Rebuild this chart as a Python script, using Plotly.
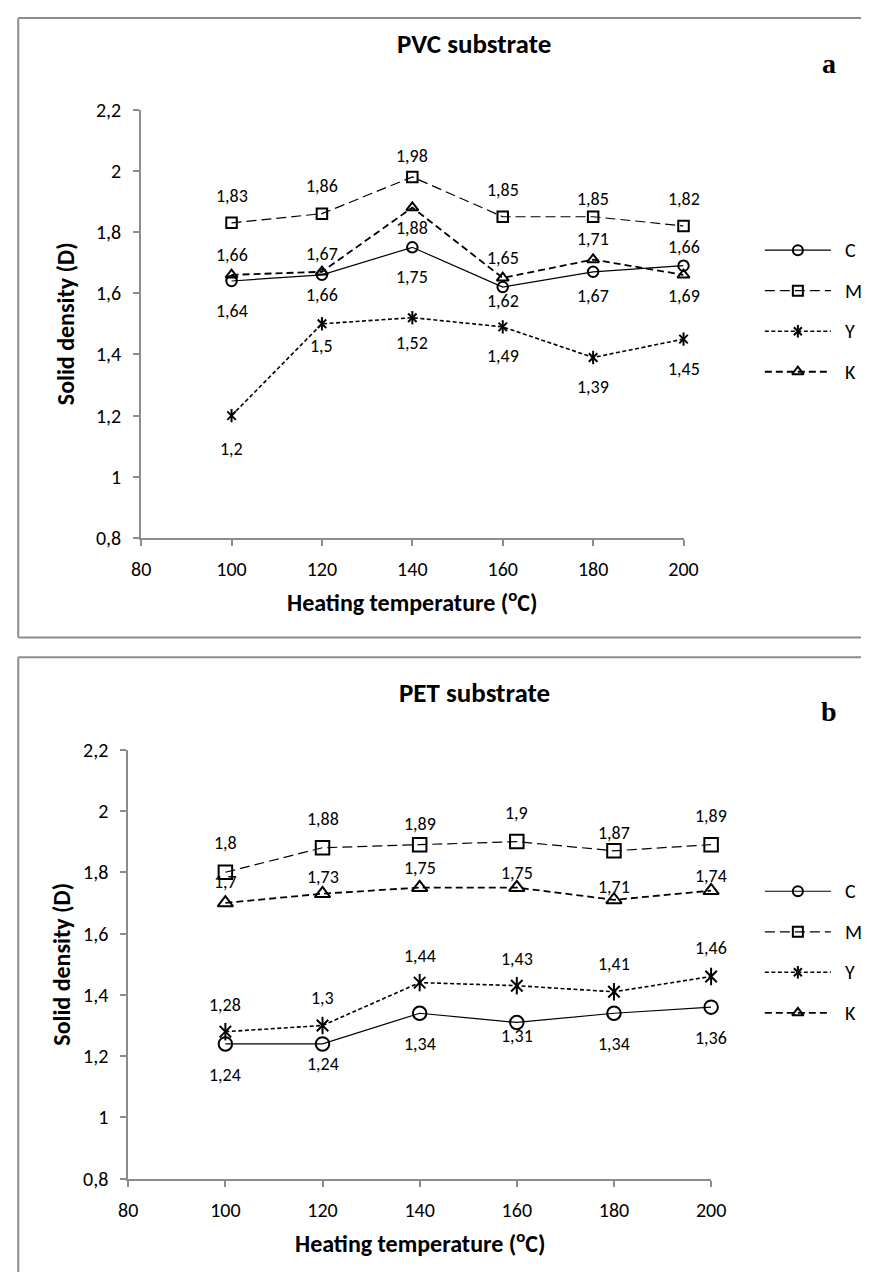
import plotly.graph_objects as go

W, H = 876, 1284

# ---------------- data ----------------
temps = [100, 120, 140, 160, 180, 200]
series = ["C", "M", "Y", "K"]

pvc_C = [1.64, 1.66, 1.75, 1.62, 1.67, 1.69]
pvc_M = [1.83, 1.86, 1.98, 1.85, 1.85, 1.82]
pvc_Y = [1.20, 1.50, 1.52, 1.49, 1.39, 1.45]
pvc_K = [1.66, 1.67, 1.88, 1.65, 1.71, 1.66]

pet_C = [1.24, 1.24, 1.34, 1.31, 1.34, 1.36]
pet_M = [1.80, 1.88, 1.89, 1.90, 1.87, 1.89]
pet_Y = [1.28, 1.30, 1.44, 1.43, 1.41, 1.46]
pet_K = [1.70, 1.73, 1.75, 1.75, 1.71, 1.74]

x_ticks = [80, 100, 120, 140, 160, 180, 200]
y_ticks = [0.8, 1.0, 1.2, 1.4, 1.6, 1.8, 2.0, 2.2]

titles = ["PVC substrate", "PET substrate"]
panel_letters = ["a", "b"]
x_title = "Heating temperature (<sup>o</sup>C)"
y_title = "Solid density (D)"

# ---------------- styles ----------------
FONT = "Calibri, Carlito, Lato, sans-serif"
AX = "#8c8c8c"
style = {
    "C": dict(dash="solid", width=1.2, symbol="circle-open"),
    "M": dict(dash="10px,5px", width=1.2, symbol="square-open"),
    "Y": dict(dash="4px,2.5px", width=1.6, symbol="x-thin-open"),
    "K": dict(dash="7px,4px", width=1.8, symbol="triangle-up-open"),
}
# label offsets in px (positive = below the point)
off_a = {"C": [30, 20, 30, 14, 24, 30], "M": [-27, -28, -21, -27, -18, -27],
         "Y": [33, 22, 25, 29, 30, 30], "K": [-20, -18, 20, -20, -21, -28]}
off_b = {"C": [31, 20, 31, 14, 31, 31], "M": [-29, -29, -21, -29, -18, -29],
         "Y": [-27, -28, -27, -27, -28, -28], "K": [-21, -17, -20, -15, -13, -15]}

panels = [
    dict(data={"C": pvc_C, "M": pvc_M, "Y": pvc_Y, "K": pvc_K}, xa="x", ya="y",
         xdom=(135, 693.3), ydom=(99.5, 536), msize=10.5, off=off_a,
         top=6, bottom=637.5, title_y=32, letter_y=52, ytitle_x=57,
         xtitle_y=600, leg_y0=242.7),
    dict(data={"C": pet_C, "M": pet_M, "Y": pet_Y, "K": pet_K}, xa="x2", ya="y2",
         xdom=(121.7, 721.7), ydom=(751.7, 1189), msize=13.5, off=off_b,
         top=657.5, bottom=None, title_y=693, letter_y=713, ytitle_x=53,
         xtitle_y=1253, leg_y0=896),
]


def px(x):
    return x / W


def py(y):
    return 1 - y / H


def lab(v):
    return ("%g" % v).replace(".", ",")


fig = go.Figure()
annotations = []
shapes = []

for p in panels:
    for s in series:
        st = style[s]
        vals = p["data"][s]
        fig.add_trace(go.Scatter(
            x=temps, y=vals, xaxis=p["xa"], yaxis=p["ya"], mode="lines+markers",
            name=s, showlegend=False, cliponaxis=False,
            line=dict(color="black", width=st["width"], dash=st["dash"]),
            marker=dict(symbol=st["symbol"], size=p["msize"] if s != "Y" else p["msize"] - 2,
                        color="black", line=dict(color="black", width=2)),
        ))
        if s == "Y":
            fig.add_trace(go.Scatter(
                x=temps, y=vals, xaxis=p["xa"], yaxis=p["ya"], mode="markers",
                showlegend=False, hoverinfo="skip", cliponaxis=False,
                marker=dict(symbol="line-ns-open", size=p["msize"] - 1,
                            color="black", line=dict(color="black", width=2)),
            ))
        for t, v, o in zip(temps, vals, p["off"][s]):
            annotations.append(dict(
                x=t, y=v, xref=p["xa"], yref=p["ya"], text=lab(v), showarrow=False,
                yshift=-o, font=dict(family=FONT, size=18, color="black"),
            ))

    # custom legend drawn on a pixel overlay axis
    for i, s in enumerate(series):
        st = style[s]
        yy = p["leg_y0"] + i * 41.3
        fig.add_trace(go.Scatter(
            x=[777, 845], y=[yy, yy], xaxis="x3", yaxis="y3", mode="lines",
            showlegend=False, hoverinfo="skip",
            line=dict(color="black", width=st["width"], dash=st["dash"])))
        fig.add_trace(go.Scatter(
            x=[811], y=[yy], xaxis="x3", yaxis="y3", mode="markers",
            showlegend=False, hoverinfo="skip",
            marker=dict(symbol=st["symbol"], size=10 if s != "Y" else 8,
                        color="black", line=dict(color="black", width=2))))
        if s == "Y":
            fig.add_trace(go.Scatter(
                x=[811], y=[yy], xaxis="x3", yaxis="y3", mode="markers",
                showlegend=False, hoverinfo="skip",
                marker=dict(symbol="line-ns-open", size=9, color="black",
                            line=dict(color="black", width=2))))
        annotations.append(dict(
            x=px(857), y=py(yy), xref="paper", yref="paper", text=s,
            xanchor="left", yanchor="middle", showarrow=False,
            font=dict(family=FONT, size=20, color="black")))


def hline(x0, x1, y):
    return dict(type="line", xref="paper", yref="paper", x0=px(x0), x1=px(x1),
                y0=py(y), y1=py(y), line=dict(color=AX, width=2), layer="below")


def vline(x, y0, y1):
    return dict(type="line", xref="paper", yref="paper", x0=px(x), x1=px(x),
                y0=py(y0), y1=py(y1), line=dict(color=AX, width=2), layer="below")


for k, p in enumerate(panels):
    # panel frame (right side / bottom of panel b fall outside the picture)
    shapes.append(hline(8.5, W, p["top"]))
    if p["bottom"] is not None:
        shapes.append(hline(8.5, W, p["bottom"]))
        shapes.append(vline(8.5, p["top"], p["bottom"]))
    else:
        shapes.append(vline(8.5, p["top"], H))
    annotations.append(dict(x=px(478), y=py(p["title_y"]), xref="paper", yref="paper",
                            text="<b>%s</b>" % titles[k], showarrow=False,
                            xanchor="center", yanchor="middle",
                            font=dict(family=FONT, size=27, color="black")))
    annotations.append(dict(x=px(843), y=py(p["letter_y"]), xref="paper", yref="paper",
                            text="<b>%s</b>" % panel_letters[k], showarrow=False,
                            xanchor="center", yanchor="middle",
                            font=dict(family="Liberation Serif, Times New Roman, serif",
                                      size=28, color="black")))
    xc = (p["xdom"][0] + p["xdom"][1]) / 2
    annotations.append(dict(x=px(xc), y=py(p["xtitle_y"]), xref="paper", yref="paper",
                            text="<b>%s</b>" % x_title, showarrow=False,
                            xanchor="center", yanchor="middle",
                            font=dict(family=FONT, size=24, color="black")))
    yc = (p["ydom"][0] + p["ydom"][1]) / 2
    annotations.append(dict(x=px(p["ytitle_x"]), y=py(yc), xref="paper", yref="paper",
                            text="<b>%s</b>" % y_title, showarrow=False, textangle=-90,
                            xanchor="center", yanchor="middle",
                            font=dict(family=FONT, size=24, color="black")))


def xaxis(p):
    return dict(domain=[px(p["xdom"][0]), px(p["xdom"][1])], range=[80, 200],
                tickvals=x_ticks, showline=True, linecolor=AX, linewidth=1.8,
                ticks="outside", ticklen=6, tickwidth=1.5, tickcolor=AX,
                showgrid=False, zeroline=False, ticklabelstandoff=6,
                tickfont=dict(family=FONT, size=20, color="black"), fixedrange=True)


def yaxis(p):
    return dict(domain=[py(p["ydom"][1]), py(p["ydom"][0])], range=[0.8, 2.2],
                tickvals=y_ticks, showline=True, linecolor=AX, linewidth=1.8,
                ticks="outside", ticklen=6, tickwidth=1.5, tickcolor=AX,
                showgrid=False, zeroline=False, ticklabelstandoff=8,
                tickfont=dict(family=FONT, size=20, color="black"), fixedrange=True)


xa1 = xaxis(panels[0]); xa1["anchor"] = "y"
ya1 = yaxis(panels[0]); ya1["anchor"] = "x"
xa2 = xaxis(panels[1]); xa2["anchor"] = "y2"
ya2 = yaxis(panels[1]); ya2["anchor"] = "x2"

fig.update_layout(
    width=W, height=H, autosize=False,
    margin=dict(l=0, r=0, t=0, b=0),
    paper_bgcolor="white", plot_bgcolor="rgba(0,0,0,0)",
    separators=", ",
    showlegend=False,
    xaxis=xa1, yaxis=ya1, xaxis2=xa2, yaxis2=ya2,
    xaxis3=dict(domain=[0, 1], range=[0, W], visible=False, anchor="y3", fixedrange=True),
    yaxis3=dict(domain=[0, 1], range=[H, 0], visible=False, anchor="x3", fixedrange=True),
    annotations=annotations,
    shapes=shapes,
    font=dict(family=FONT, color="black"),
)

fig.write_html(
    "out.html",
    config={"displayModeBar": False},
    post_script="document.body.style.margin='0';document.body.style.overflow='hidden';",
)
